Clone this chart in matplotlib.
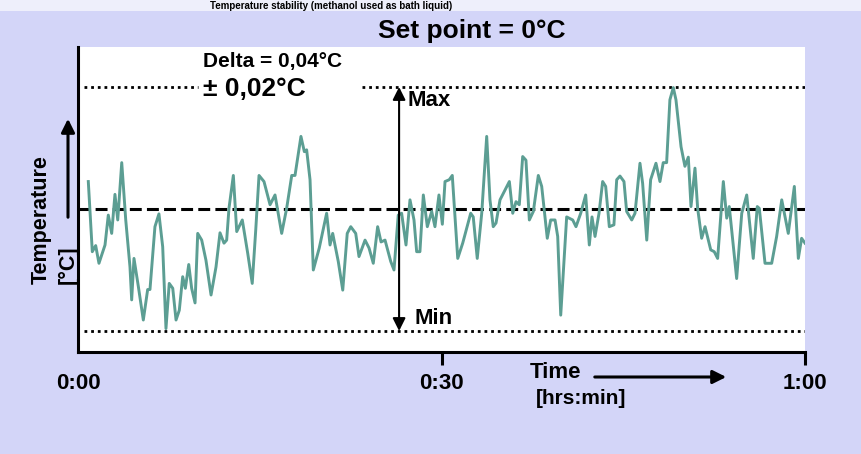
import matplotlib
matplotlib.use("Agg")
import matplotlib.pyplot as plt
from matplotlib.patches import Rectangle, FancyArrowPatch

# time in minutes, temperature deviation from set point in degC
time_min = [0.85, 1.18, 1.46, 1.73, 2.23, 2.50, 2.78, 3.05, 3.28, 3.61,
            3.94, 4.29, 4.43, 4.62, 4.98, 5.39, 5.75, 5.94, 6.35, 6.68,
            6.99, 7.26, 7.53, 7.82, 8.09, 8.36, 8.64, 8.86, 9.14, 9.38,
            9.66, 9.88, 10.21, 10.56, 10.98, 11.39, 11.72, 12.05, 12.27, 12.46,
            12.82, 13.10, 13.56, 14.01, 14.38, 14.67, 14.94, 15.35, 15.85, 16.26,
            16.81, 17.22, 17.64, 17.91, 18.40, 18.68, 18.87, 19.15, 19.42, 19.91,
            20.52, 20.80, 21.02, 21.48, 21.85, 22.22, 22.51, 22.92, 23.19, 23.69,
            24.02, 24.37, 24.73, 25.01, 25.34, 25.81, 26.08, 26.43, 26.71, 27.07,
            27.40, 27.73, 27.95, 28.22, 28.50, 28.83, 29.19, 29.46, 29.79, 30.07,
            30.29, 30.64, 30.89, 31.34, 31.75, 32.41, 32.62, 32.95, 33.32, 33.73,
            34.00, 34.27, 34.50, 34.83, 35.16, 35.60, 35.88, 36.15, 36.42, 36.70,
            36.97, 37.25, 37.58, 37.99, 38.27, 38.73, 39.01, 39.37, 39.59, 39.84,
            40.33, 40.83, 41.10, 41.49, 41.90, 42.20, 42.42, 42.67, 43.00, 43.30,
            43.55, 43.85, 44.23, 44.46, 44.73, 45.06, 45.28, 45.70, 45.97, 46.38,
            46.60, 46.94, 47.26, 47.70, 48.03, 48.30, 48.58, 48.85, 49.13, 49.35,
            49.77, 50.09, 50.37, 50.59, 50.92, 51.14, 51.47, 51.75, 52.22, 52.51,
            52.79, 53.26, 53.54, 53.75, 54.36, 54.78, 55.19, 55.73, 56.06, 56.23,
            56.70, 57.25, 57.66, 58.08, 58.62, 59.12, 59.45, 59.72, 60.00]
temp_dev = [0.0045, -0.0070, -0.0060, -0.0089, -0.0059, -0.0010, -0.0040, 0.0024, -0.0018, 0.0076,
            -0.0018, -0.0095, -0.0149, -0.0081, -0.0127, -0.0182, -0.0132, -0.0132, -0.0029, -0.0008,
            -0.0062, -0.0196, -0.0122, -0.0130, -0.0182, -0.0166, -0.0111, -0.0130, -0.0091, -0.0130,
            -0.0154, -0.0040, -0.0051, -0.0084, -0.0141, -0.0095, -0.0039, -0.0056, -0.0051, 0.0001,
            0.0055, -0.0037, -0.0018, -0.0073, -0.0122, -0.0034, 0.0055, 0.0045, 0.0007, 0.0023,
            -0.0040, 0.0001, 0.0055, 0.0055, 0.0119, 0.0094, 0.0097, 0.0048, -0.0100, -0.0064,
            -0.0007, -0.0059, -0.0040, -0.0086, -0.0133, -0.0040, -0.0029, -0.0040, -0.0078, -0.0051,
            -0.0064, -0.0089, -0.0029, -0.0054, -0.0051, -0.0086, -0.0100, -0.0010, -0.0007, -0.0059,
            0.0015, -0.0018, -0.0070, -0.0070, 0.0023, -0.0029, -0.0004, -0.0029, 0.0023, -0.0025,
            0.0045, 0.0048, 0.0055, -0.0081, -0.0056, -0.0007, -0.0013, -0.0081, -0.0007, 0.0119,
            0.0015, -0.0029, -0.0023, 0.0015, 0.0028, 0.0045, -0.0007, 0.0012, 0.0007, 0.0086,
            0.0080, -0.0018, -0.0004, 0.0055, 0.0037, -0.0048, -0.0018, -0.0018, -0.0045, -0.0174,
            -0.0013, -0.0018, -0.0029, -0.0007, 0.0023, -0.0059, -0.0013, -0.0045, -0.0007, 0.0045,
            0.0037, -0.0029, -0.0026, 0.0048, 0.0054, 0.0045, -0.0004, -0.0018, -0.0007, 0.0075,
            0.0042, -0.0051, 0.0048, 0.0075, 0.0045, 0.0076, 0.0076, 0.0179, 0.0199, 0.0179,
            0.0102, 0.0070, 0.0085, 0.0004, 0.0067, 0.0001, -0.0048, -0.0029, -0.0067, -0.0070,
            -0.0081, 0.0045, -0.0015, 0.0004, -0.0114, -0.0007, 0.0023, -0.0081, 0.0004, 0.0001,
            -0.0089, -0.0089, -0.0045, 0.0015, -0.0040, 0.0037, -0.0081, -0.0048, -0.0056]

set_point = 0.0
t_max = 0.02
t_min = -0.02
tick_pos = [0, 30, 60]
tick_labels = ["0:00", "0:30", "1:00"]

W, H = 862, 454
BG = "#d3d5f8"
LINE = "#5c9e93"
plt.rcParams["font.family"] = ["Liberation Sans", "DejaVu Sans"]
plt.rcParams["font.weight"] = "bold"


def px(x, y):
    # pixel position (from top-left) -> figure fraction
    return x / W, 1 - y / H


fig = plt.figure(figsize=(W / 100, H / 100), dpi=100, facecolor=BG)
fig.patches.append(Rectangle((0, 1 - 11 / H), 1, 11 / H, transform=fig.transFigure,
                             facecolor="#eeeffb", edgecolor="none", zorder=0))

# heading of the slide, squeezed into the top strip
fig.text(*px(210, 9), "Temperature stability (methanol used as bath liquid)",
         fontsize=7, ha="left", va="baseline", color="black")
fig.text(*px(472, 31), "Set point = 0°C", fontsize=19, ha="center", va="center")

ax = fig.add_axes([78 / W, 1 - 352 / H, (805 - 78) / W, (352 - 47) / H])
ax.set_facecolor("white")
ax.set_xlim(0, 60)
ax.set_ylim(-0.023443, 0.026557)

ax.plot(time_min, temp_dev, color=LINE, lw=2.1, zorder=3)

ax.hlines(set_point, 0, 60, colors="black", lw=2.2, linestyles=(0, (3.9, 1.7)), zorder=2)
ax.hlines(t_min, 0.5, 60, colors="black", lw=2.0, linestyles=(0, (1, 1.4)), zorder=2)
ax.hlines(t_max, 0.5, 9.9, colors="black", lw=2.0, linestyles=(0, (1, 1.4)), zorder=2)
ax.hlines(t_max, 23.4, 60, colors="black", lw=2.0, linestyles=(0, (1, 1.4)), zorder=2)

ax.annotate("", xy=(26.5, t_max), xytext=(26.5, t_min),
            arrowprops=dict(arrowstyle="<|-|>", lw=1.5, color="black",
                            mutation_scale=19, shrinkA=0, shrinkB=0), zorder=4)
ax.text(27.2, 0.0178, "Max", fontsize=16, ha="left", va="center")
ax.text(27.8, -0.0180, "Min", fontsize=16, ha="left", va="center")
ax.text(10.3, 0.0241, "Delta = 0,04°C", fontsize=15, ha="left", va="center")
ax.text(10.3, 0.0197, "± 0,02°C", fontsize=19, ha="left", va="center")

for s in ["top", "right"]:
    ax.spines[s].set_visible(False)
ax.spines["left"].set_linewidth(2.2)
ax.spines["bottom"].set_linewidth(2.2)
ax.set_yticks([])
ax.set_xticks(tick_pos)
ax.set_xticklabels(tick_labels, fontsize=16, fontweight="bold")
ax.tick_params(axis="x", direction="out", length=9, width=2.2, pad=6)
ax.xaxis.get_major_ticks()[0].tick1line.set_visible(False)

# axis captions with arrows
fig.text(*px(41, 284), "Temperature", rotation=90, fontsize=15.5, ha="center", va="bottom")
fig.text(*px(68, 284), "[°C]", rotation=90, fontsize=15.5, ha="center", va="bottom")
fig.patches.append(FancyArrowPatch(px(68, 220), px(68, 116), transform=fig.transFigure,
                                   arrowstyle="-|>", mutation_scale=20, lw=2.2, color="black"))

fig.text(*px(530, 373), "Time", fontsize=16, ha="left", va="center")
fig.text(*px(536, 399), "[hrs:min]", fontsize=15, ha="left", va="center")
fig.patches.append(FancyArrowPatch(px(592, 377), px(729, 377), transform=fig.transFigure,
                                   arrowstyle="-|>", mutation_scale=20, lw=2.2, color="black"))

fig.savefig("out.png", dpi=100, facecolor=BG)
